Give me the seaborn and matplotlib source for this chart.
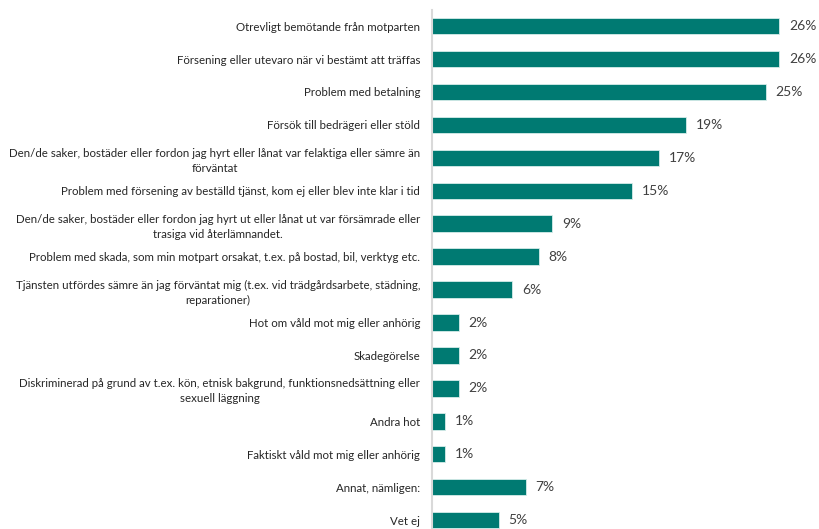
import matplotlib
matplotlib.use("Agg")
import matplotlib.pyplot as plt
import seaborn as sns
import pandas as pd

categories = [
    "Otrevligt bemötande från motparten",
    "Försening eller utevaro när vi bestämt att träffas",
    "Problem med betalning",
    "Försök till bedrägeri eller stöld",
    "Den/de saker, bostäder eller fordon jag hyrt eller lånat var felaktiga eller sämre än\nförväntat",
    "Problem med försening av beställd tjänst, kom ej eller blev inte klar i tid",
    "Den/de saker, bostäder eller fordon jag hyrt ut eller lånat ut var försämrade eller\ntrasiga vid återlämnandet.",
    "Problem med skada, som min motpart orsakat, t.ex. på bostad, bil, verktyg etc.",
    "Tjänsten utfördes sämre än jag förväntat mig (t.ex. vid trädgårdsarbete, städning,\nreparationer)",
    "Hot om våld mot mig eller anhörig",
    "Skadegörelse",
    "Diskriminerad på grund av t.ex. kön, etnisk bakgrund, funktionsnedsättning eller\nsexuell läggning",
    "Andra hot",
    "Faktiskt våld mot mig eller anhörig",
    "Annat, nämligen:",
    "Vet ej",
]
values = [26, 26, 25, 19, 17, 15, 9, 8, 6, 2, 2, 2, 1, 1, 7, 5]

df = pd.DataFrame({"category": categories, "value": values})

sns.set_theme(style="white")
plt.rcParams["font.family"] = ["Lato", "DejaVu Sans"]

W, H = 819, 529
fig = plt.figure(figsize=(W / 100, H / 100), dpi=100)
px_per_unit = 13.36
xmax = 28.0
ax = fig.add_axes([432 / W, 0, xmax * px_per_unit / W, 519 / H])

teal = "#007A72"
sns.barplot(data=df, y="category", x="value", orient="h", color=teal,
            saturation=1, width=0.5, edgecolor="#D6ECEA", linewidth=0.6, ax=ax)

ax.set_xlim(0, xmax)
ax.set_ylim(15.27, -0.49)
ax.set_xlabel("")
ax.set_ylabel("")
ax.set_xticks([])
for s in ["top", "right", "bottom"]:
    ax.spines[s].set_visible(False)
ax.spines["left"].set_color("#D9D9D9")
ax.spines["left"].set_linewidth(1.5)
ax.tick_params(axis="y", length=0, pad=8.6, labelsize=8.3, labelcolor="#262626")
for lab in ax.get_yticklabels():
    lab.set_multialignment("center")
    lab.set_linespacing(1.45)

for container in ax.containers:
    ax.bar_label(container, labels=[f"{v}%" for v in values], padding=7,
                 fontsize=10, color="#404040")

fig.savefig("out.png", dpi=100)
